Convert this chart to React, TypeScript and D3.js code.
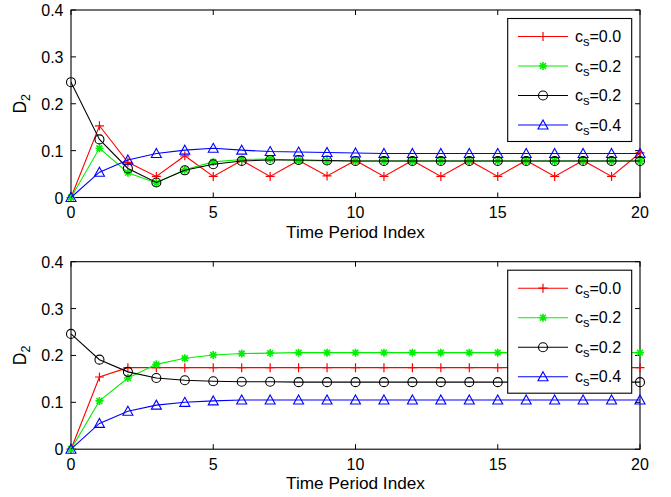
import React from 'react';
import * as d3 from 'd3';

// Time period index
const periods = [0, 1, 2, 3, 4, 5, 6, 7, 8, 9, 10, 11, 12, 13, 14, 15, 16, 17, 18, 19, 20];

// Top panel
const topRed = [0, 0.153, 0.075, 0.045, 0.089, 0.045, 0.079, 0.045, 0.079, 0.046, 0.079, 0.045, 0.079, 0.045, 0.079, 0.045, 0.079, 0.045, 0.079, 0.045, 0.095];
const topGreen = [0, 0.105, 0.053, 0.031, 0.059, 0.076, 0.081, 0.082, 0.079, 0.078, 0.078, 0.078, 0.078, 0.078, 0.078, 0.078, 0.078, 0.078, 0.078, 0.078, 0.078];
const topBlack = [0.246, 0.124, 0.062, 0.032, 0.058, 0.071, 0.078, 0.080, 0.080, 0.079, 0.078, 0.078, 0.078, 0.078, 0.078, 0.078, 0.078, 0.078, 0.078, 0.078, 0.078];
const topBlue = [0, 0.054, 0.080, 0.094, 0.101, 0.105, 0.101, 0.098, 0.097, 0.096, 0.095, 0.094, 0.094, 0.094, 0.094, 0.094, 0.094, 0.094, 0.094, 0.094, 0.094];

// Bottom panel
const botRed = [0, 0.154, 0.174, 0.174, 0.174, 0.174, 0.174, 0.174, 0.174, 0.174, 0.174, 0.174, 0.174, 0.174, 0.174, 0.174, 0.174, 0.174, 0.174, 0.174, 0.174];
const botGreen = [0, 0.103, 0.152, 0.181, 0.194, 0.201, 0.204, 0.205, 0.206, 0.206, 0.206, 0.206, 0.206, 0.206, 0.206, 0.206, 0.206, 0.206, 0.206, 0.206, 0.206];
const botBlack = [0.246, 0.191, 0.165, 0.152, 0.147, 0.145, 0.144, 0.144, 0.143, 0.143, 0.143, 0.143, 0.143, 0.143, 0.143, 0.143, 0.143, 0.143, 0.143, 0.143, 0.143];
const botBlue = [0, 0.055, 0.081, 0.094, 0.100, 0.103, 0.105, 0.105, 0.105, 0.105, 0.105, 0.105, 0.105, 0.105, 0.105, 0.105, 0.105, 0.105, 0.105, 0.105, 0.105];

const legendLabels = ['0.0', '0.2', '0.2', '0.4'];
const xTicks = [0, 5, 10, 15, 20];
const yTicks = [0, 0.1, 0.2, 0.3, 0.4];

const colors = ['#ff0000', '#00f000', '#000000', '#0000ff'];
const markers = ['plus', 'star', 'circle', 'triangle'];

const FONT = '"Liberation Sans", Arial, sans-serif';

const Marker = ({ type, x, y, color }) => {
  if (type === 'plus') {
    return <path d={`M${x - 4.5},${y}H${x + 4.5}M${x},${y - 4.5}V${y + 4.5}`} stroke={color} strokeWidth={1.2} fill="none" />;
  }
  if (type === 'star') {
    const r = 4;
    const d = 2.9;
    return (
      <path
        d={`M${x - r},${y}H${x + r}M${x},${y - r}V${y + r}M${x - d},${y - d}L${x + d},${y + d}M${x - d},${y + d}L${x + d},${y - d}`}
        stroke={color} strokeWidth={1.6} fill="none" />
    );
  }
  if (type === 'circle') {
    return <circle cx={x} cy={y} r={4.5} stroke={color} strokeWidth={1.1} fill="none" />;
  }
  return <path d={`M${x},${y - 5}L${x + 5},${y + 4}L${x - 5},${y + 4}Z`} stroke={color} strokeWidth={1.1} fill="none" />;
};

const Panel = ({ top, series }) => {
  const left = 71;
  const right = 640;
  const bottom = top + 187.5;
  const x = d3.scaleLinear().domain([0, 20]).range([left, right]);
  const y = d3.scaleLinear().domain([0, 0.4]).range([bottom, top]);
  const line = d3.line<number>().x((_, i) => x(periods[i])).y(d => y(d));

  const lgX = 507.7;
  const lgY = top + 8.5;
  const lgW = 124;
  const lgH = 123;

  return (
    <g fontFamily={FONT} fontSize={16} fill="#000">
      <defs>
        <clipPath id={`clip${top}`}>
          <rect x={left - 8} y={top - 8} width={right - left + 16} height={bottom - top + 16} />
        </clipPath>
      </defs>
      {/* ticks */}
      {xTicks.map(t => (
        <g key={'x' + t}>
          <line x1={x(t)} x2={x(t)} y1={bottom} y2={bottom - 5} stroke="#000" />
          <line x1={x(t)} x2={x(t)} y1={top} y2={top + 5} stroke="#000" />
          <text x={x(t)} y={bottom + 20.5} textAnchor="middle">{t}</text>
        </g>
      ))}
      {yTicks.map(t => (
        <g key={'y' + t}>
          <line x1={left} x2={left + 5} y1={y(t)} y2={y(t)} stroke="#000" />
          <line x1={right} x2={right - 5} y1={y(t)} y2={y(t)} stroke="#000" />
          <text x={63.5} y={y(t) + 6} textAnchor="end">{t === 0 ? '0' : t.toFixed(1)}</text>
        </g>
      ))}
      <rect x={left} y={top} width={right - left} height={bottom - top} fill="none" stroke="#000" strokeWidth={1.1} />
      {/* series */}
      <g clipPath={`url(#clip${top})`}>
        {series.map((s, k) => (
          <g key={k}>
            <path d={line(s) || ''} fill="none" stroke={colors[k]} strokeWidth={1.1} />
            {s.map((v, i) => (
              <Marker key={i} type={markers[k]} x={x(periods[i])} y={y(v)} color={colors[k]} />
            ))}
          </g>
        ))}
      </g>
      {/* axis labels */}
      <text x={(left + right) / 2} y={bottom + 40} textAnchor="middle" fontSize={17.2}>Time Period Index</text>
      <text transform={`translate(26,${(top + bottom) / 2}) rotate(-90)`} textAnchor="middle" fontSize={17.5}>
        D<tspan fontSize={12.5} dy={4}>2</tspan>
      </text>
      {/* legend */}
      <rect x={lgX} y={lgY} width={lgW} height={lgH} fill="#fff" stroke="#000" strokeWidth={1.1} />
      {legendLabels.map((lab, k) => {
        const ly = lgY + 18 + k * 29.5;
        return (
          <g key={k}>
            <line x1={518} x2={568} y1={ly} y2={ly} stroke={colors[k]} strokeWidth={1.1} />
            <Marker type={markers[k]} x={543} y={ly} color={colors[k]} />
            <text x={575} y={ly + 5.5}>
              c<tspan fontSize={13} dy={4}>s</tspan><tspan dy={-4}>={lab}</tspan>
            </text>
          </g>
        );
      })}
    </g>
  );
}

export default function App() {
  return (
    <svg width={671} height={497} style={{ position: 'absolute', left: 0, top: 0, background: '#fff' }}>
      <rect width={671} height={497} fill="#fff" />
      <Panel top={10} series={[topRed, topGreen, topBlack, topBlue]} />
      <Panel top={261.7} series={[botRed, botGreen, botBlack, botBlue]} />
    </svg>
  );
}
